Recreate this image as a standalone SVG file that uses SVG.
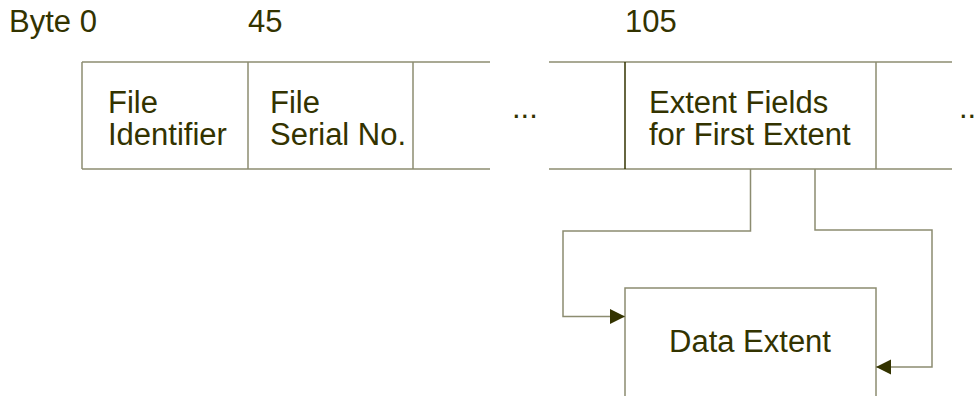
<svg xmlns="http://www.w3.org/2000/svg" width="978" height="396" viewBox="0 0 978 396">
  <defs>
    <style>
      .t { font-family: "Liberation Sans", Arial, sans-serif; font-size: 31px; fill: #333300; }
      .ln { stroke: #8c8c70; stroke-width: 1.5; fill: none; }
      .dk { stroke: #333300; stroke-width: 1.5; fill: none; }
      .box { fill: #ffffff; stroke: #8c8c70; stroke-width: 1.5; }
    </style>
    <marker id="arrow" viewBox="0 0 10 10" refX="10" refY="5" markerWidth="15" markerHeight="17" markerUnits="userSpaceOnUse" orient="auto">
      <path d="M0,0 L10,5 L0,10 Z" fill="#333300"/>
    </marker>
  </defs>
  <rect width="978" height="396" fill="#ffffff"/>

  <!-- byte offsets -->
  <g id="offsets">
    <text class="t" x="9" y="32">Byte 0</text>
    <text class="t" x="248" y="32">45</text>
    <text class="t" x="625" y="32">105</text>
  </g>

  <!-- record strip -->
  <g id="strip">
    <line class="ln" x1="82" y1="62" x2="490" y2="62"/>
    <line class="ln" x1="82" y1="169" x2="490" y2="169"/>
    <line class="ln" x1="549" y1="62" x2="952" y2="62"/>
    <line class="ln" x1="549" y1="169" x2="952" y2="169"/>
  </g>

  <g id="file-identifier">
    <line class="ln" x1="82" y1="62" x2="82" y2="169"/>
    <text class="t" x="108" y="113">File</text>
    <text class="t" x="108" y="145">Identifier</text>
  </g>

  <g id="file-serial">
    <line class="ln" x1="248" y1="62" x2="248" y2="169"/>
    <text class="t" x="270" y="113">File</text>
    <text class="t" x="270" y="145">Serial No.</text>
  </g>

  <g id="gap-cell">
    <line class="ln" x1="413" y1="62" x2="413" y2="169"/>
    <text class="t" x="512" y="118">...</text>
  </g>

  <g id="extent-fields">
    <line class="dk" x1="625" y1="62" x2="625" y2="169"/>
    <line class="ln" x1="876" y1="62" x2="876" y2="169"/>
    <text class="t" x="649" y="113">Extent Fields</text>
    <text class="t" x="649" y="145">for First Extent</text>
  </g>

  <g id="tail">
    <text class="t" x="959" y="118">...</text>
  </g>

  <g id="data-extent">
    <rect class="box" x="625" y="288" width="251" height="120"/>
    <text class="t" x="669" y="352">Data Extent</text>
  </g>

  <!-- connectors -->
  <g id="connectors">
    <polyline class="ln" points="750.5,169 750.5,231 563,231 563,316.5 625,316.5" marker-end="url(#arrow)"/>
    <polyline class="ln" points="815,169 815,230 932,230 932,367 876,367" marker-end="url(#arrow)"/>
  </g>
</svg>
